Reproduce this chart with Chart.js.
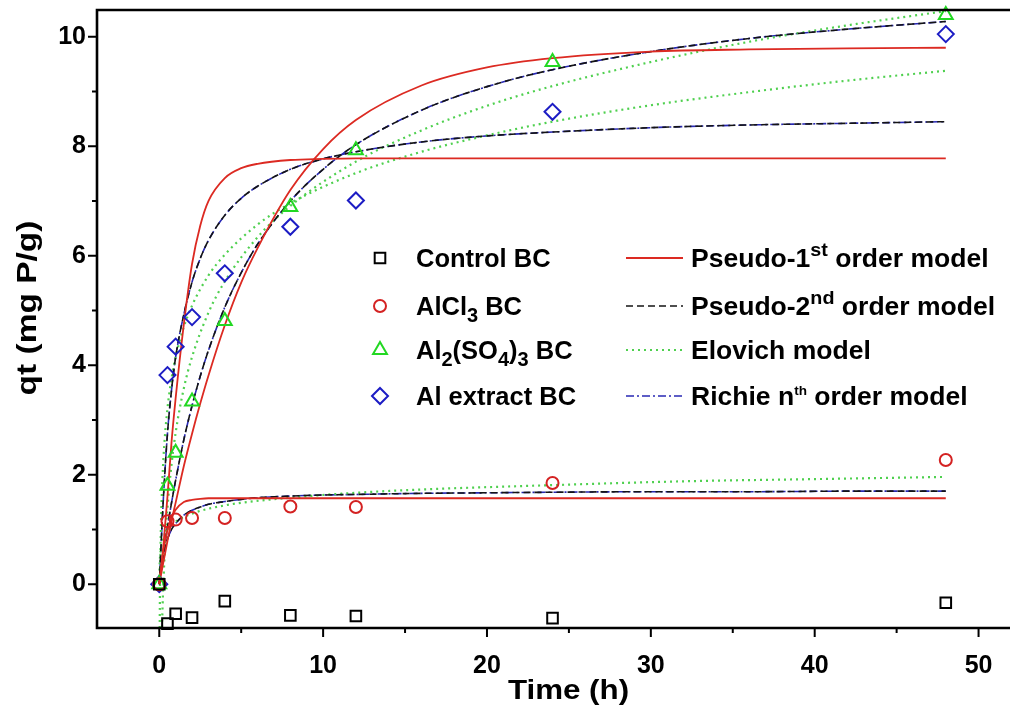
<!DOCTYPE html>
<html>
<head>
<meta charset="utf-8">
<title>Phosphate adsorption kinetics</title>
<script src="https://cdn.jsdelivr.net/npm/chart.js@4.4.1/dist/chart.umd.min.js"></script>
<style>
  html, body { margin: 0; padding: 0; background: #fff; overflow: hidden; }
  #wrap { width: 1010px; height: 708px; overflow: hidden; position: relative; }
  canvas { display: block; }
</style>
</head>
<body>
<div id="wrap"><canvas id="kinetics" width="1050" height="708"></canvas></div>
<script>
// ---- measured adsorption (qt, mg P/g) at each contact time (h) ----
const times = [0, 0.5, 1, 2, 4, 8, 12, 24, 48];
const controlBC   = [0, -0.72, -0.54, -0.61, -0.31, -0.57, -0.58, -0.62, -0.34];
const alcl3BC     = [0, 1.15, 1.18, 1.21, 1.21, 1.42, 1.41, 1.85, 2.27];
const al2so43BC   = [0, 1.80, 2.40, 3.34, 4.81, 6.89, 7.93, 9.54, 10.40];
const alExtractBC = [0, 3.82, 4.34, 4.88, 5.68, 6.53, 7.01, 8.63, 10.05];

// ---- fitted model curves ----
const modelTimes = [0, 0.25, 0.5, 0.75, 1, 1.5, 2, 2.5, 3, 4, 5, 6, 8, 10, 12, 16, 20, 24, 30, 36, 42, 48];

const pfoAlExtract = [0, 0.7, 1.6, 2.6, 3.4, 4.75, 5.85, 6.55, 7.0, 7.42, 7.6, 7.68, 7.75, 7.77, 7.78, 7.78, 7.78, 7.78, 7.78, 7.78, 7.78, 7.78];
const pfoAl2so43   = [0, 0.40, 0.79, 1.16, 1.49, 2.16, 2.75, 3.30, 3.81, 4.73, 5.51, 6.14, 7.20, 7.95, 8.48, 9.11, 9.44, 9.61, 9.73, 9.77, 9.79, 9.80];
const pfoAlcl3     = [0, 0.62, 0.99, 1.22, 1.36, 1.50, 1.54, 1.56, 1.57, 1.57, 1.57, 1.57, 1.57, 1.57, 1.57, 1.57, 1.57, 1.57, 1.57, 1.57, 1.57, 1.57];

const psoAlExtract = [0, 1.56, 2.75, 3.55, 4.15, 4.93, 5.52, 5.95, 6.28, 6.74, 7.05, 7.27, 7.58, 7.77, 7.90, 8.08, 8.19, 8.26, 8.34, 8.39, 8.42, 8.45];
const psoAl2so43   = [0, 0.54, 1.04, 1.49, 1.90, 2.64, 3.26, 3.80, 4.27, 5.06, 5.69, 6.21, 7.00, 7.58, 8.03, 8.66, 9.09, 9.40, 9.73, 9.97, 10.14, 10.28];
const psoAlcl3     = [0, 0.54, 0.82, 1.00, 1.11, 1.26, 1.35, 1.41, 1.46, 1.51, 1.55, 1.58, 1.61, 1.63, 1.64, 1.66, 1.67, 1.68, 1.69, 1.69, 1.70, 1.70];

const richieAlExtract = [0, 1.56, 2.75, 3.55, 4.15, 4.93, 5.52, 5.95, 6.28, 6.74, 7.05, 7.27, 7.58, 7.77, 7.90, 8.08, 8.19, 8.26, 8.34, 8.39, 8.42, 8.45];
const richieAl2so43   = [0, 0.54, 1.04, 1.49, 1.90, 2.64, 3.26, 3.80, 4.27, 5.06, 5.69, 6.21, 7.00, 7.58, 8.03, 8.66, 9.09, 9.40, 9.73, 9.97, 10.14, 10.28];
const richieAlcl3     = [0, 0.54, 0.82, 1.00, 1.11, 1.26, 1.35, 1.41, 1.46, 1.51, 1.55, 1.58, 1.61, 1.63, 1.64, 1.66, 1.67, 1.68, 1.69, 1.69, 1.70, 1.70];

const elovichTimesAlExtract = [0.02, 0.03, 0.05, 0.1, 0.2, 0.3, 0.5, 0.75, 1, 1.5, 2, 3, 4, 6, 8, 12, 16, 20, 24, 30, 36, 42, 48];
const elovichAlExtract      = [-1.13, -0.59, 0.10, 1.04, 1.97, 2.52, 3.21, 3.76, 4.15, 4.70, 5.09, 5.64, 6.02, 6.57, 6.96, 7.51, 7.90, 8.20, 8.45, 8.75, 8.99, 9.20, 9.38];
const elovichTimesAl2so43   = [0.12, 0.15, 0.2, 0.25, 0.3, 0.4, 0.5, 0.75, 1, 1.5, 2, 3, 4, 6, 8, 12, 16, 20, 24, 30, 36, 42, 48];
const elovichAl2so43        = [-1.45, -1.01, -0.43, 0.01, 0.37, 0.94, 1.39, 2.19, 2.77, 3.58, 4.15, 4.96, 5.53, 6.34, 6.91, 7.72, 8.29, 8.74, 9.10, 9.54, 9.91, 10.21, 10.47];
const elovichTimesAlcl3     = [0.005, 0.02, 0.05, 0.1, 0.25, 0.5, 1, 2, 4, 8, 12, 16, 24, 32, 40, 48];
const elovichAlcl3          = [0.03, 0.32, 0.51, 0.66, 0.85, 1.00, 1.14, 1.29, 1.44, 1.58, 1.67, 1.73, 1.81, 1.88, 1.92, 1.96];

// ---- axes and legend text ----
const xTicks = [0, 10, 20, 30, 40, 50];
const xMinorTicks = [5, 15, 25, 35, 45];
const yTicks = [0, 2, 4, 6, 8, 10];
const yMinorTicks = [1, 3, 5, 7, 9];
const xTitle = 'Time (h)';
const yTitle = 'qt (mg P/g)';
const seriesNames = ['Control BC', 'AlCl3 BC', 'Al2(SO4)3 BC', 'Al extract BC'];
const modelNames = ['Pseudo-1^st order model', 'Pseudo-2^nd order model', 'Elovich model', 'Richie n^th order model'];

// ---- styling ----
const FONT = '"Liberation Sans", Arial, Helvetica, sans-serif';
const seriesStyles = [
  { pointStyle: 'rect',     radius: 7.5, color: '#000000' },
  { pointStyle: 'circle',   radius: 6,   color: '#d42222' },
  { pointStyle: 'triangle', radius: 8,   color: '#22d822' },
  { pointStyle: 'rectRot',  radius: 8,   color: '#1c1cc4' }
];
const modelStyles = [
  { color: '#dc2a22', dash: [],           width: 1.8 },
  { color: '#141414', dash: [7, 4],       width: 1.6 },
  { color: '#4fd04f', dash: [2, 4],       width: 2.2 },
  { color: '#2828b4', dash: [8, 3, 2, 3], width: 1.6 }
];
const modelSupSizes = [19, 19, 19, 13];

const toPoints = (xs, ys) => xs.map((x, i) => ({ x: x, y: ys[i] }));

const seriesValues = [controlBC, alcl3BC, al2so43BC, alExtractBC];
const markerSets = seriesValues.map((vals, i) => ({
  label: seriesNames[i],
  data: toPoints(times, vals),
  showLine: false,
  pointStyle: seriesStyles[i].pointStyle,
  pointRadius: seriesStyles[i].radius,
  pointHoverRadius: seriesStyles[i].radius,
  pointBorderWidth: 2,
  pointBorderColor: seriesStyles[i].color,
  pointBackgroundColor: 'rgba(0,0,0,0)',
  borderColor: seriesStyles[i].color,
  clip: false,
  order: 0
}));

const curveDefs = [
  [0, 'Al extract BC', modelTimes, pfoAlExtract],
  [0, 'Al2(SO4)3 BC', modelTimes, pfoAl2so43],
  [0, 'AlCl3 BC', modelTimes, pfoAlcl3],
  [1, 'Al extract BC', modelTimes, psoAlExtract],
  [1, 'Al2(SO4)3 BC', modelTimes, psoAl2so43],
  [1, 'AlCl3 BC', modelTimes, psoAlcl3],
  [2, 'Al extract BC', elovichTimesAlExtract, elovichAlExtract],
  [2, 'Al2(SO4)3 BC', elovichTimesAl2so43, elovichAl2so43],
  [2, 'AlCl3 BC', elovichTimesAlcl3, elovichAlcl3],
  [3, 'Al extract BC', modelTimes, richieAlExtract],
  [3, 'Al2(SO4)3 BC', modelTimes, richieAl2so43],
  [3, 'AlCl3 BC', modelTimes, richieAlcl3]
];
const curveSets = curveDefs.map(([m, name, xs, ys]) => ({
  label: modelNames[m].replace('^', '') + ' - ' + name,
  data: toPoints(xs, ys),
  showLine: true,
  pointRadius: 0,
  pointHoverRadius: 0,
  borderColor: modelStyles[m].color,
  borderWidth: modelStyles[m].width,
  borderDash: modelStyles[m].dash,
  cubicInterpolationMode: 'monotone',
  fill: false,
  order: 1
}));

// Split a label into normal / subscript (digits in formulas) / superscript (^xx) runs
function parseRich(label) {
  const segs = [];
  const push = (t, k) => {
    if (segs.length && segs[segs.length - 1][1] === k) segs[segs.length - 1][0] += t;
    else segs.push([t, k]);
  };
  let i = 0;
  while (i < label.length) {
    const c = label[i];
    if (c === '^') {
      let j = i + 1;
      while (j < label.length && label[j] !== ' ') j++;
      push(label.slice(i + 1, j), 'sup');
      i = j;
      continue;
    }
    if (/\d/.test(c) && i > 0 && /[A-Za-z)]/.test(label[i - 1])) { push(c, 'sub'); i++; continue; }
    push(c, '');
    i++;
  }
  return segs;
}

// Rich label drawn with an optional horizontal stretch
function drawRich(ctx, x, y, label, size, supSize, stretch) {
  ctx.save();
  ctx.translate(x, y);
  ctx.scale(stretch, 1);
  let cx = 0;
  for (const [text, kind] of parseRich(label)) {
    let fs = size, dy = 0;
    if (kind === 'sub') { fs = 20; dy = 7; }
    if (kind === 'sup') { fs = supSize; dy = supSize > 14 ? -11 : -10; }
    ctx.font = 'bold ' + fs + 'px ' + FONT;
    ctx.fillText(text, cx, dy);
    cx += ctx.measureText(text).width;
  }
  ctx.restore();
}

function drawMarker(ctx, style, x, y) {
  ctx.save();
  ctx.strokeStyle = style.color;
  ctx.fillStyle = 'rgba(0,0,0,0)';
  ctx.lineWidth = 2;
  Chart.helpers.drawPoint(ctx, { pointStyle: style.pointStyle, radius: style.radius, rotation: 0, borderWidth: 2 }, x, y);
  ctx.restore();
}

// Axis titles, frame, outward tick marks and the two-column legend
const framePlugin = {
  id: 'framePlugin',
  afterDraw(chart) {
    const { ctx, chartArea: a, scales: { x, y } } = chart;
    ctx.save();
    ctx.strokeStyle = '#000';
    ctx.lineCap = 'butt';
    ctx.lineWidth = 2;
    ctx.beginPath();
    xTicks.forEach(v => { const p = x.getPixelForValue(v); ctx.moveTo(p, a.bottom); ctx.lineTo(p, a.bottom + 9); });
    xMinorTicks.forEach(v => { const p = x.getPixelForValue(v); ctx.moveTo(p, a.bottom); ctx.lineTo(p, a.bottom + 5); });
    yTicks.forEach(v => { const p = y.getPixelForValue(v); ctx.moveTo(a.left, p); ctx.lineTo(a.left - 9, p); });
    yMinorTicks.forEach(v => { const p = y.getPixelForValue(v); ctx.moveTo(a.left, p); ctx.lineTo(a.left - 5, p); });
    ctx.stroke();

    ctx.lineWidth = 2.6;
    ctx.beginPath();
    ctx.moveTo(a.right + 5, a.top);
    ctx.lineTo(a.left, a.top);
    ctx.lineTo(a.left, a.bottom);
    ctx.lineTo(a.right + 5, a.bottom);
    ctx.stroke();

    // axis titles
    ctx.fillStyle = '#000';
    ctx.textAlign = 'center';
    ctx.textBaseline = 'middle';
    ctx.font = 'bold 27px ' + FONT;
    ctx.save();
    ctx.translate((a.left + a.right) / 2, 692);
    ctx.scale(1.16, 1);
    ctx.fillText(xTitle, 0, 0);
    ctx.restore();
    ctx.save();
    ctx.translate(29, 308);
    ctx.rotate(-Math.PI / 2);
    ctx.scale(1.24, 1);
    ctx.fillText(yTitle, 0, 0);
    ctx.restore();

    // legend
    const rows = [258, 306, 350, 396];
    ctx.textBaseline = 'alphabetic';
    ctx.textAlign = 'left';
    seriesNames.forEach((name, i) => {
      drawMarker(ctx, seriesStyles[i], 380, rows[i]);
      ctx.fillStyle = '#000';
      drawRich(ctx, 416, rows[i] + 9, name, 25.5, 19, 1);
    });
    modelNames.forEach((name, i) => {
      const st = modelStyles[i];
      ctx.save();
      ctx.strokeStyle = st.color;
      ctx.lineWidth = st.width;
      ctx.setLineDash(st.dash);
      ctx.beginPath();
      ctx.moveTo(626, rows[i]);
      ctx.lineTo(683, rows[i]);
      ctx.stroke();
      ctx.restore();
      ctx.fillStyle = '#000';
      drawRich(ctx, 691, rows[i] + 9, name, 25.5, modelSupSizes[i], 1.04);
    });
    ctx.restore();
  }
};

Chart.defaults.font.family = FONT;
Chart.defaults.color = '#000';

const noPad = s => { s.paddingTop = 0; s.paddingBottom = 0; s.paddingLeft = 0; s.paddingRight = 0; };

new Chart(document.getElementById('kinetics'), {
  type: 'scatter',
  data: { datasets: [...curveSets, ...markerSets] },
  options: {
    responsive: false,
    animation: false,
    devicePixelRatio: 1,
    layout: { padding: { top: 10, right: 0, left: 0, bottom: 0 } },
    plugins: { legend: { display: false }, tooltip: { enabled: false } },
    scales: {
      x: {
        type: 'linear',
        min: -3.8,
        max: 53.75,
        grid: { display: false },
        border: { display: false },
        afterBuildTicks: s => { s.ticks = xTicks.map(v => ({ value: v })); },
        afterFit: s => { s.height = 80; noPad(s); },
        ticks: { font: { size: 25, weight: 'bold' }, padding: 15, maxRotation: 0 }
      },
      y: {
        type: 'linear',
        min: -0.8,
        max: 10.49,
        grid: { display: false },
        border: { display: false },
        afterBuildTicks: s => { s.ticks = yTicks.map(v => ({ value: v })); },
        afterFit: s => { s.width = 97; noPad(s); },
        ticks: { font: { size: 25, weight: 'bold' }, padding: 3 }
      }
    }
  },
  plugins: [framePlugin]
});
</script>
</body>
</html>
